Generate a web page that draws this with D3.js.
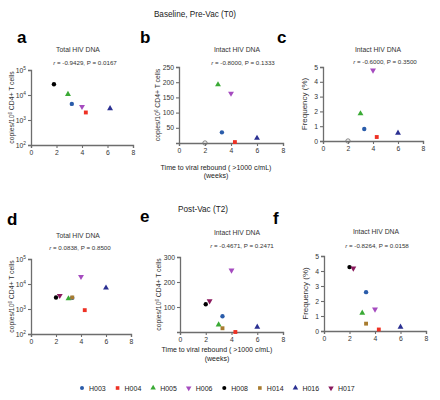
<!DOCTYPE html>
<html><head><meta charset="utf-8">
<script src="https://cdn.jsdelivr.net/npm/d3@7"></script>
<style>body{margin:0;background:#fff}svg{font-family:"Liberation Sans",Arial,sans-serif}</style>
</head><body><svg id="chart" width="440" height="400"></svg>
<script>
// ---- data ----
const subjects = ["H003","H004","H005","H006","H008","H014","H016","H017"];
const subjectColors = ["#2a5caa","#ee3124","#3aaa35","#a54bbf","#000000","#a87c2f","#2b3092","#8b1a5e"];
const subjectShapes = ["circle","square","triangle","triangleDown","circle","square","triangle","triangleDown"];
const xTicks = [0,2,4,6,8];

// T0 (baseline) — H014, H017 not measured
const weeksT0Total = [3.2,4.3,2.9,4.0,1.8,null,6.2,null];
const weeksT0 = [3.3,4.3,3.0,4.0,2.0,null,6.0,null];
const totalT0 = [4400,2000,10700,3400,27000,null,2900,null];
const intactT0 = [35,3,192,163,0,null,16,null];
const freqT0 = [0.81,0.27,1.85,4.78,0,null,0.54,null];
const undetectedT0 = [false,false,false,false,true,false,false,false];

// T2 (post-vac)
const weeksT2 = [3.3,4.3,3.0,4.0,2.0,3.3,6.0,2.3];
const totalT2 = [2800,900,2600,19600,2900,2900,7000,3400];
const intactT2 = [63,0,29,247,111,15,20,124];
const freqT2 = [2.59,0.1,1.2,1.45,4.26,0.49,0.27,4.18];
const undetectedT2 = [false,false,false,false,false,false,false,false];

const logTicks = [100,1000,10000,100000];
const intactTicksT0 = [50,100,150,200,250];
const intactTicksT2 = [100,200,300];
const freqTicks = [0,1,2,3,4,5];

const stats = ["r = -0.9429, P = 0.0167","r = -0.8000, P = 0.1333","r = -0.6000, P = 0.3500",
               "r = 0.0838, P = 0.8500","r = -0.4671, P = 0.2471","r = -0.8264, P = 0.0158"];

// ---- drawing ----
const svg = d3.select("#chart");
const axisColor = "#6d6d6d";
const textColor = "#333";
const shapeMap = {circle:d3.symbolCircle, square:d3.symbolSquare, triangle:d3.symbolTriangle, triangleDown:d3.symbolTriangle};

function marker(g, i, x, y, hollow, size){
  const shape = subjectShapes[i];
  const p = g.append("path")
    .attr("d", d3.symbol().type(shapeMap[shape]).size(size)())
    .attr("transform", `translate(${x},${y})` + (shape==="triangleDown" ? " rotate(180)" : ""));
  if (hollow) p.attr("fill","none").attr("stroke","#777").attr("stroke-width",0.9);
  else p.attr("fill", subjectColors[i]);
}

const panels = [
  {letter:"a", lx:17, ly:43, L:31, R:133, T:70, B:145, log:true, domain:[100,1e5], ticks:logTicks,
   xs:weeksT0Total, ys:totalT0, und:null, title:"Total HIV DNA", tx:78, ty:52, stat:stats[0], sx:85, sy:65, ylab:"copies", yx:14},
  {letter:"b", lx:140, ly:43, L:179, R:283, T:67, B:143, log:false, domain:[0,250], ticks:intactTicksT0,
   xs:weeksT0, ys:intactT0, und:undetectedT0, title:"Intact HIV DNA", tx:237, ty:52, stat:stats[1], sx:243, sy:65, ylab:"copies", yx:160},
  {letter:"c", lx:277, ly:43, L:323, R:423, T:67, B:141, log:false, domain:[0,5], ticks:freqTicks,
   xs:weeksT0, ys:freqT0, und:undetectedT0, title:"Intact HIV DNA", tx:378, ty:52, stat:stats[2], sx:385, sy:64, ylab:"freq", yx:307},
  {letter:"d", lx:7, ly:225, L:31, R:131, T:259, B:334, log:true, domain:[100,1e5], ticks:logTicks,
   xs:weeksT2, ys:totalT2, und:null, title:"Total HIV DNA", tx:78, ty:238, stat:stats[3], sx:80, sy:250, ylab:"copies", yx:14},
  {letter:"e", lx:140, ly:222, L:180, R:283, T:257, B:332, log:false, domain:[0,300], ticks:intactTicksT2,
   xs:weeksT2, ys:intactT2, und:undetectedT2, title:"Intact HIV DNA", tx:237, ty:235, stat:stats[4], sx:242, sy:248, ylab:"copies", yx:161},
  {letter:"f", lx:273, ly:224, L:324, R:426, T:256, B:331, log:false, domain:[0,5], ticks:freqTicks,
   xs:weeksT2, ys:freqT2, und:undetectedT2, title:"Intact HIV DNA", tx:376, ty:234, stat:stats[5], sx:377, sy:248, ylab:"freq", yx:308},
];

panels.forEach(p => {
  const g = svg.append("g");
  const x = d3.scaleLinear().domain([0,8]).range([p.L,p.R]);
  const y = (p.log ? d3.scaleLog() : d3.scaleLinear()).domain(p.domain).range([p.B,p.T]);

  g.append("text").attr("x",p.lx).attr("y",p.ly).attr("font-size",17).attr("font-weight","bold")
    .attr("fill","#000").text(p.letter);
  g.append("text").attr("x",p.tx).attr("y",p.ty).attr("text-anchor","middle").attr("font-size",6.8)
    .attr("fill",textColor).text(p.title);
  const st = g.append("text").attr("x",p.sx).attr("y",p.sy).attr("text-anchor","middle").attr("font-size",6.2).attr("fill",textColor);
  st.append("tspan").attr("font-style","italic").text("r");
  st.append("tspan").text(p.stat.slice(1));

  // x axis
  const xa = g.append("g").attr("transform",`translate(0,${p.B})`)
    .call(d3.axisBottom(x).tickValues(xTicks).tickSize(3).tickPadding(2).tickFormat(d3.format("d")));
  // y axis
  const ya = g.append("g").attr("transform",`translate(${p.L},0)`)
    .call(d3.axisLeft(y).tickValues(p.ticks).tickSize(3).tickPadding(2)
      .tickFormat(p.log ? (()=>"") : d3.format("d")));
  [xa,ya].forEach(a=>{
    a.select(".domain").attr("stroke",axisColor).attr("stroke-width",1.3);
    a.selectAll(".tick line").attr("stroke",axisColor).attr("stroke-width",1.1);
    a.selectAll(".tick text").attr("font-size",6.8).attr("fill",textColor).attr("font-family","Liberation Sans, Arial, sans-serif");
  });
  if (p.log) {
    ya.selectAll(".tick").each(function(d){
      const t = d3.select(this).select("text");
      t.text("10");
      t.append("tspan").attr("font-size",4.8).attr("dy",-3).text(Math.round(Math.log10(d)));
    });
  }

  // y label
  const yl = g.append("text").attr("transform",`translate(${p.yx},${(p.T+p.B)/2}) rotate(-90)`)
    .attr("text-anchor","middle").attr("fill",textColor);
  if (p.ylab==="copies") {
    yl.attr("font-size",6.8);
    yl.append("tspan").text("copies/10");
    yl.append("tspan").attr("font-size",4.5).attr("dy",-2.5).text("6");
    yl.append("tspan").attr("dy",2.5).text(" CD4+ T cells");
  } else {
    yl.attr("font-size",8).text("Frequency (%)");
  }

  // points
  subjects.forEach((s,i) => {
    if (p.xs[i]==null || p.ys[i]==null) return;
    const hollow = p.und && p.und[i];
    marker(g, i, x(p.xs[i]), y(p.ys[i]), hollow, 15);
  });
});

// headings
svg.append("text").attr("x",195).attr("y",17).attr("text-anchor","middle").attr("font-size",8.2)
  .attr("fill","#222").text("Baseline, Pre-Vac (T0)");
svg.append("text").attr("x",203).attr("y",212).attr("text-anchor","middle").attr("font-size",8.2)
  .attr("fill","#222").text("Post-Vac (T2)");

// x axis titles
[[216,170,178],[217,352,361]].forEach(([cx,y1,y2])=>{
  svg.append("text").attr("x",cx).attr("y",y1).attr("text-anchor","middle").attr("font-size",7)
    .attr("fill","#222").text("Time to viral rebound ( >1000 c/mL)");
  svg.append("text").attr("x",cx).attr("y",y2).attr("text-anchor","middle").attr("font-size",7)
    .attr("fill","#222").text("(weeks)");
});

// legend
const legX = d3.scalePoint().domain(subjects).range([82,331]);
const leg = svg.append("g");
subjects.forEach((s,i)=>{
  const cx = legX(s);
  marker(leg, i, cx, 388, false, 13);
  leg.append("text").attr("x",cx+7).attr("y",390.5).attr("font-size",7).attr("fill","#222").text(s);
});
</script></body></html>
